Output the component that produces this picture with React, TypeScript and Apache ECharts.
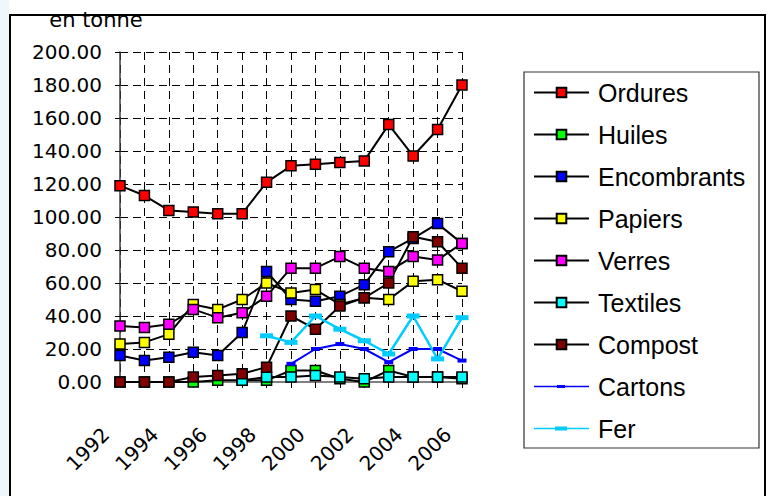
import React, { useEffect, useRef } from "react";
import * as echarts from "echarts";

const years = ["1992","1993","1994","1995","1996","1997","1998","1999","2000","2001","2002","2003","2004","2005","2006"];
const ordures = [119,113,104,103,102,102,121,131,132,133,134,156,137,153,180];
const huiles = [0,0,0,0,1,1,1,7,7,2,0,7,3,3,2];
const encombrants = [16,13,15,18,16,30,67,50,49,52,59,79,87,96,84];
const papiers = [23,24,29,47,44,50,60,54,56,47,51,50,61,62,55];
const verres = [34,33,35,44,39,42,52,69,69,76,69,67,76,74,84];
const textiles = [null,null,null,null,null,1,3,3,4,3,2,3,3,3,3];
const compost = [0,0,0,3,4,5,9,40,32,46,51,60,88,85,69];
const cartons = [null,null,null,null,null,null,null,11,20,23,20,12,20,20,13];
const fer = [null,null,null,null,null,null,28,24,40,32,25,17,40,14,39];

const squareSeries = [
  { name: "Ordures", data: ordures, color: "#FF0000" },
  { name: "Huiles", data: huiles, color: "#00FF00" },
  { name: "Encombrants", data: encombrants, color: "#0000FF" },
  { name: "Papiers", data: papiers, color: "#FFFF00" },
  { name: "Verres", data: verres, color: "#FF00FF" },
  { name: "Textiles", data: textiles, color: "#00FFFF" },
  { name: "Compost", data: compost, color: "#800000" },
];

export default function App() {
  const ref = useRef<HTMLDivElement>(null);
  useEffect(() => {
    if (!ref.current) return;
    const chart = echarts.init(ref.current, null, { renderer: "svg" });
    const series: any[] = squareSeries.map((s) => ({
      name: s.name,
      type: "line",
      data: s.data,
      symbol: "rect",
      symbolSize: 10,
      showAllSymbol: true,
      connectNulls: false,
      itemStyle: { color: s.color, borderColor: "#000", borderWidth: 1.5 },
      lineStyle: { color: "#000", width: 2 },
    }));
    series.push({
      name: "Cartons",
      type: "line",
      data: cartons,
      symbol: "rect",
      symbolSize: [9, 4],
      showAllSymbol: true,
      itemStyle: { color: "#0000FF" },
      lineStyle: { color: "#0000FF", width: 2 },
    });
    series.push({
      name: "Fer",
      type: "line",
      data: fer,
      symbol: "rect",
      symbolSize: [13, 5],
      showAllSymbol: true,
      itemStyle: { color: "#00CCFF" },
      lineStyle: { color: "#00CCFF", width: 2.5 },
    });
    const names = [...squareSeries.map((s) => s.name)];
    const legendData: any[] = names.map((n) => ({ name: n }));
    legendData.push({
      name: "Cartons",
      icon: "path://M0,0h0.05v0.05h-0.05z M0,12h0.05v-0.05h-0.05z M0,5.2h55v1.6h-55z M23,4.5h8v3h-8z",
    });
    legendData.push({
      name: "Fer",
      icon: "path://M0,0h0.05v0.05h-0.05z M0,12h0.05v-0.05h-0.05z M0,5.2h55v1.6h-55z M21,4h12v4h-12z",
    });

    chart.setOption({
      animation: false,
      backgroundColor: "#ffffff",
      textStyle: { fontFamily: "Liberation Sans" },
      grid: { left: 120, top: 52, width: 342, height: 330, containLabel: false },
      xAxis: {
        type: "category",
        data: years,
        boundaryGap: false,
        axisLine: { show: true, lineStyle: { color: "#808080", width: 2 } },
        axisTick: { show: true, interval: 0, length: 6, lineStyle: { color: "#000" } },
        axisLabel: {
          interval: 1,
          rotate: 45,
          fontSize: 20,
          fontFamily: "DejaVu Sans",
          color: "#000",
          margin: 35,
          padding: [0, 20, 0, 0],
        },
        splitLine: { show: true, interval: 0, lineStyle: { type: [8, 5], color: "#000", width: 1 } },
      },
      yAxis: {
        type: "value",
        min: 0,
        max: 200,
        interval: 20,
        axisLine: { show: true, lineStyle: { color: "#404040", width: 1.5 } },
        axisTick: { show: true, length: 5, lineStyle: { color: "#000" } },
        axisLabel: {
          formatter: (v: number) => v.toFixed(2),
          fontSize: 20,
          fontFamily: "DejaVu Sans",
          color: "#000",
          margin: 18,
        },
        splitLine: { show: true, lineStyle: { type: [8, 5], color: "#000", width: 1 } },
      },
      legend: {
        orient: "vertical",
        left: 533,
        top: 80,
        padding: 0,
        itemWidth: 55,
        itemHeight: 12,
        itemGap: 17,
        data: legendData,
        textStyle: {
          fontSize: 25,
          fontFamily: "Liberation Sans",
          color: "#000",
          lineHeight: 25,
          padding: [0, 0, 0, 4],
        },
      },
      graphic: [
        { type: "rect", shape: { x: 0, y: 0, width: 9, height: 496 }, style: { fill: "#EEF7FB" }, silent: true },
        {
          type: "rect",
          shape: { x: 10, y: 15, width: 755, height: 520 },
          style: { fill: "none", stroke: "#000", lineWidth: 2 },
          silent: true,
        },
        {
          type: "rect",
          shape: { x: 524, y: 72, width: 235, height: 376 },
          style: { fill: "none", stroke: "#333", lineWidth: 1.2 },
          silent: true,
        },
        {
          type: "text",
          x: 96,
          y: 20,
          style: {
            text: "en tonne",
            fontSize: 21,
            fontFamily: "DejaVu Sans",
            fill: "#000",
            align: "center",
            verticalAlign: "middle",
          },
          silent: true,
        },
      ],
      series,
    });
    return () => chart.dispose();
  }, []);
  return (
    <div
      ref={ref}
      style={{ position: "absolute", left: 0, top: 0, width: 769, height: 496 }}
    />
  );
}
